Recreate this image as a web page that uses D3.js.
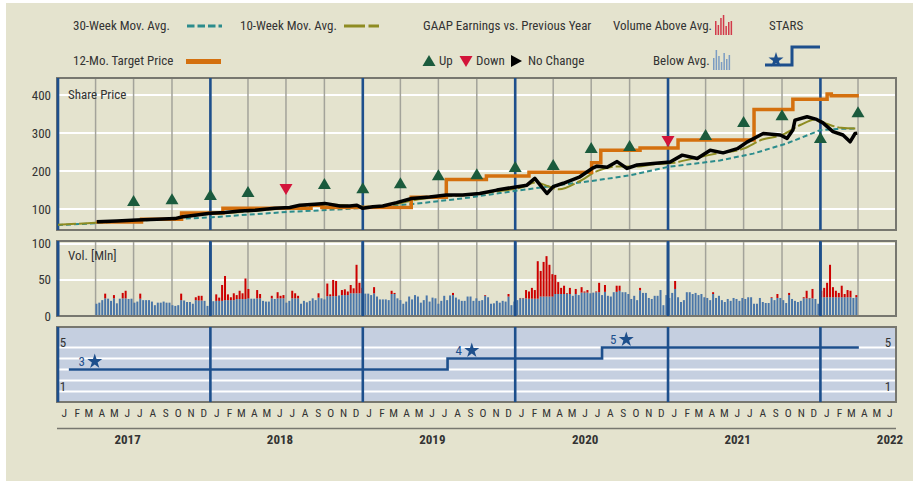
<!DOCTYPE html>
<html>
<head>
<meta charset="utf-8">
<script src="https://cdn.jsdelivr.net/npm/d3@7"></script>
<style>
	body { margin: 0; background: #fff; }
	svg text { font-family: "Liberation Sans Narrow", "Roboto Condensed", "Liberation Sans", sans-serif; fill: #333; }
</style>
</head>
<body>
<svg id="chart" width="913" height="481"></svg>
<script>
// ---- data ----
const priceDates = ['2017-04-04','2017-05-22','2017-07-09','2017-08-26','2017-10-08','2017-10-27','2017-11-25','2017-12-31',
	'2018-02-05','2018-03-13','2018-04-18','2018-06-04','2018-07-10','2018-08-03','2018-09-08','2018-10-02','2018-11-07',
	'2018-12-01','2018-12-18','2019-01-01','2019-01-25','2019-02-18','2019-03-23','2019-04-28','2019-06-10','2019-07-20',
	'2019-08-28','2019-10-08','2019-11-18','2019-12-26','2020-01-29','2020-02-17','2020-03-01','2020-03-17','2020-04-01',
	'2020-04-25','2020-06-04','2020-07-03','2020-07-15','2020-08-08','2020-09-01','2020-09-25','2020-10-19','2020-11-26',
	'2021-01-06','2021-02-04','2021-03-12','2021-04-12','2021-05-13','2021-06-16','2021-07-10','2021-08-17','2021-09-27',
	'2021-10-13','2021-10-27','2021-11-01','2021-11-30','2021-12-23','2022-01-07','2022-01-31','2022-02-24','2022-03-13',
	'2022-03-25','2022-03-30'];
const priceValues = [67, 69, 71, 73, 75, 80, 84, 89,
	91, 95, 97, 102, 104, 110, 113, 115, 108,
	108, 110, 102, 106, 108, 117, 128, 132, 137,
	137, 141, 150, 157, 163, 181, 163, 141, 159,
	168, 185, 207, 213, 210, 225, 207, 216, 220,
	224, 242, 233, 255, 248, 259, 277, 299, 295,
	286, 308, 334, 343, 336, 327, 304, 295, 277,
	299, 300];

const ma30Dates = ['2017-01-01','2017-03-20','2017-06-10','2017-12-31','2018-03-15','2018-07-10','2018-09-25','2018-11-20',
	'2019-01-01','2019-04-28','2019-08-28','2019-12-26','2020-03-17','2020-07-15','2020-10-02','2021-01-01','2021-05-05',
	'2021-07-24','2021-10-13','2022-01-01','2022-02-10','2022-03-30'];
const ma30Values = [58, 62, 68, 78, 84, 93, 97, 100,
	103, 113, 128, 147, 159, 176, 189, 211, 228,
	246, 273, 308, 311, 312];

const ma10Dates = ['2017-01-01','2017-04-01','2017-07-01','2017-10-01','2017-12-01','2018-02-01','2018-04-15','2018-06-15',
	'2018-08-15','2018-10-10','2018-12-01','2019-01-15','2019-03-15','2019-05-15','2019-07-15','2019-09-15','2019-11-15',
	'2020-01-15','2020-02-20','2020-03-20','2020-04-15','2020-06-01','2020-07-15','2020-09-01','2020-10-15','2020-12-01',
	'2021-01-15','2021-03-01','2021-05-01','2021-07-01','2021-08-15','2021-10-01','2021-11-15','2021-12-20','2022-01-15',
	'2022-02-20','2022-03-30'];
const ma10Values = [59, 64, 70, 74, 84, 89, 95, 101,
	107, 112, 109, 106, 112, 126, 133, 138, 146,
	157, 170, 160, 152, 172, 200, 212, 212, 218,
	222, 233, 247, 259, 283, 295, 322, 336, 325,
	314, 312];

const targetDates = ['2017-04-03','2017-07-20','2017-10-24','2018-01-31','2018-08-30','2018-09-25','2019-04-27','2019-07-20',
	'2019-10-24','2020-02-03','2020-07-02','2020-07-24','2020-10-26','2021-01-25','2021-07-26','2021-10-27','2022-01-17',
	'2022-01-27','2022-04-03'];
const targetValues = [66, 73, 90, 102, 110, 104, 131, 178,
	187, 197, 222, 255, 261, 282, 362, 389, 403,
	398, 398];

const earnDates = ['2017-07-01','2017-10-01','2018-01-01','2018-04-01','2018-07-01','2018-10-01','2019-01-01','2019-04-01',
	'2019-07-01','2019-10-01','2020-01-01','2020-04-01','2020-07-01','2020-10-01','2021-01-01','2021-04-01','2021-07-01',
	'2021-10-01','2022-01-01','2022-04-01'];
const earnValues = [121, 126, 137, 145, 153, 166, 155, 168, 189, 192, 211, 216, 261, 266, 279, 295, 329, 347, 287, 355];
const earnDir = ['up','up','up','up','down','up','up','up','up','up','up','up','up','up','down','up','up','up','up','up'];

// weekly volume (Mln), first week 2017-04-03
const volumeStart = '2017-04-03';
const volume = [17, 18.5, 22, 31, 24, 21, 29, 17.6, 24, 32, 35, 23.6, 24, 18.5, 20, 31, 22, 22, 22, 20,
	15, 18.5, 18.5, 20, 18.5, 18.5, 15, 14, 15, 31, 21.5, 19.4, 19.4, 17, 26, 28, 28, 21, 14, 23,
	20.5, 30, 25.5, 43, 55.5, 30, 26, 31.5, 29, 35, 31.5, 52, 37.5, 24, 24, 36, 30.5, 21, 20, 20,
	28, 23.6, 33, 28, 29, 18.5, 21, 35, 31.5, 28, 17, 21, 19, 21, 24.5, 22, 31.5, 24.5, 23, 45,
	30, 50, 48.6, 28.5, 36, 37, 34, 43, 38.4, 71, 46, 39, 31, 31, 29, 40, 27, 23, 23, 23,
	22, 35, 32, 24.5, 22, 17, 20, 27, 23, 29, 27, 18.5, 22, 28.5, 20, 25.5, 24.5, 17, 21, 28,
	22, 28.5, 32, 25.5, 23, 21, 21, 27, 27, 21, 24.5, 21, 22, 29, 26, 17, 17.6, 21, 18.5, 21,
	20, 30.5, 15, 20, 22, 25, 25, 36, 34, 39, 36, 76, 62.5, 75, 83, 71, 58, 57, 47, 39,
	42, 31.5, 39, 28, 37.5, 29, 40, 34, 36, 31.5, 32.4, 34, 46, 29, 43, 28, 27, 33, 42, 42,
	33, 33, 30.5, 23.6, 28, 22, 39, 32, 32, 25, 23.6, 28, 28, 36, 15, 29, 25, 32, 48.6, 26,
	19.4, 22, 33, 33, 30.5, 32, 29, 30.5, 26, 25, 22, 33, 25, 28, 22, 19.4, 23.6, 21, 25, 23.6,
	21, 25, 23.6, 26, 26, 17, 17, 25, 19.4, 18, 18, 26, 22, 30.5, 25, 22, 18, 32, 23.6, 21,
	19.4, 21, 26, 35, 25, 37.5, 23.6, 17, 35, 39, 46, 71, 40, 35, 32, 42, 30.5, 36, 35, 25, 29];
// monthly average volume, Apr 2017 .. Mar 2022
const volAvg = [24.5, 24.5, 24.5, 24, 23, 22.5, 22, 22, 21.5,
	21, 22, 23.5, 24.5, 24.5, 24.5, 24.5, 25, 25.5, 27.5, 29, 31.5,
	31.5, 31, 30.5, 30, 29.5, 29, 29, 29, 28.5, 28, 27.5, 27,
	24.5, 24, 27, 30.5, 30.5, 32.5, 33, 33.5, 35, 35.5, 36, 37,
	37.5, 35, 33, 30.5, 29, 27.5, 26.5, 25.5, 25, 29, 24.5, 24.5,
	26, 26, 26];

const starSteps = ['2017-01-27','2019-07-23','2020-07-27','2022-04-03'];
const starLevels = [3, 4, 5, 5];
const starMarkDates = ['2017-03-30','2019-09-19','2020-09-23'];
const starMarkLevels = [3, 4, 5];

const priceTicks = [100, 200, 300, 400];
const volTicks = [0, 50, 100];
const monthLetters = ['J','F','M','A','M','J','J','A','S','O','N','D'];
const yearLabels = [2017, 2018, 2019, 2020, 2021, 2022];
const iconUp = [14, 10, 17, 20, 9, 13, 14];
const iconDown = [12, 20, 14, 8, 17, 11, 15];

// ---- setup ----
const COLORS = {
	bg: '#e4e3ce', starsBg: '#c5cfe0', grid: '#ffffff', quarter: '#a3a39a', year: '#1d4f8c',
	border: '#77776f', teal: '#2b8c8c', olive: '#8e8c22', orange: '#d4700e', green: '#1b5b3d',
	red: '#d3143a', volBlue: '#4a76a8', volRed: '#cc0000', text: '#333333'
};
const parse = d3.timeParse('%Y-%m-%d');
const svg = d3.select('#chart');
svg.append('rect').attr('x', 6).attr('y', 3).attr('width', 907).attr('height', 478).attr('fill', COLORS.bg);

const X0 = 57, X1 = 896;
const x = d3.scaleTime().domain([new Date(2017, 0, 1), new Date(2022, 6, 1)]).range([58, 896]);
const yPrice = d3.scaleLinear().domain([45, 445]).range([230, 78]);
const yVol = d3.scaleLinear().domain([0, 104]).range([316, 241]);
const yStar = d3.scaleLinear().domain([0, 7]).range([402.5, 325.5]);

const quarters = d3.timeMonth.every(3).range(new Date(2017, 0, 1), new Date(2022, 6, 1)).filter(function (d) { return d.getMonth() !== 0; });
const years = d3.timeYear.range(new Date(2017, 0, 1), new Date(2022, 6, 1));

function panel (top, bottom, fill, hTicks, yScale, withQuarters) {
	var g = svg.append('g');
	g.append('rect').attr('x', X0).attr('y', top).attr('width', X1 - X0).attr('height', bottom - top).attr('fill', fill);
	g.selectAll('.hg').data(hTicks).enter().append('line')
		.attr('x1', X0).attr('x2', X1)
		.attr('y1', function (d) { return yScale(d); }).attr('y2', function (d) { return yScale(d); })
		.attr('stroke', COLORS.grid).attr('stroke-width', 2);
	if (withQuarters) {
		g.selectAll('.qg').data(quarters).enter().append('line')
			.attr('x1', function (d) { return x(d); }).attr('x2', function (d) { return x(d); })
			.attr('y1', top).attr('y2', bottom)
			.attr('stroke', COLORS.quarter).attr('stroke-width', 1.5);
	}
	g.append('rect').attr('x', X0).attr('y', top).attr('width', X1 - X0).attr('height', bottom - top)
		.attr('fill', 'none').attr('stroke', COLORS.border).attr('stroke-width', 2);
	return g;
}
function yearLines (g, top, bottom) {
	g.selectAll('.yl').data(years).enter().append('line')
		.attr('x1', function (d) { return x(d); }).attr('x2', function (d) { return x(d); })
		.attr('y1', top).attr('y2', bottom)
		.attr('stroke', COLORS.year).attr('stroke-width', 2.6);
}

// ---- price panel ----
var gp = panel(78, 230, COLORS.bg, priceTicks, yPrice, true);
yearLines(gp, 78, 230);
svg.selectAll('.py').data(priceTicks).enter().append('text')
	.attr('x', 51).attr('y', function (d) { return yPrice(d); }).attr('dy', '0.35em')
	.attr('text-anchor', 'end').attr('font-size', 13).text(function (d) { return d; });
svg.append('text').attr('x', 68).attr('y', 99).attr('font-size', 13).text('Share Price');

function series (dates, values) {
	return dates.map(function (d, i) { return { date: parse(d), value: values[i] }; });
}
var lineP = d3.line().x(function (d) { return x(d.date); }).y(function (d) { return yPrice(d.value); });
gp.append('path').datum(series(ma30Dates, ma30Values)).attr('d', lineP)
	.attr('fill', 'none').attr('stroke', COLORS.teal).attr('stroke-width', 2).attr('stroke-dasharray', '5,3');
gp.append('path').datum(series(ma10Dates, ma10Values)).attr('d', lineP.curve(d3.curveMonotoneX))
	.attr('fill', 'none').attr('stroke', COLORS.olive).attr('stroke-width', 2).attr('stroke-dasharray', '18,3');
gp.append('path').datum(series(targetDates, targetValues))
	.attr('d', d3.line().curve(d3.curveStepAfter).x(function (d) { return x(d.date); }).y(function (d) { return yPrice(d.value); }))
	.attr('fill', 'none').attr('stroke', COLORS.orange).attr('stroke-width', 3.5);
gp.append('path').datum(series(priceDates, priceValues))
	.attr('d', d3.line().x(function (d) { return x(d.date); }).y(function (d) { return yPrice(d.value); }))
	.attr('fill', 'none').attr('stroke', '#000').attr('stroke-width', 3.5).attr('stroke-linejoin', 'round');

var upPath = 'M0,-6L6.5,5L-6.5,5Z', downPath = 'M-6.5,-5L6.5,-5L0,6Z';
gp.selectAll('.earn').data(series(earnDates, earnValues)).enter().append('path')
	.attr('transform', function (d) { return 'translate(' + x(d.date) + ',' + yPrice(d.value) + ')'; })
	.attr('d', function (d, i) { return earnDir[i] === 'up' ? upPath : downPath; })
	.attr('fill', function (d, i) { return earnDir[i] === 'up' ? COLORS.green : COLORS.red; });

// ---- volume panel ----
var gv = panel(241, 316, COLORS.bg, [50, 100], yVol, true);
yearLines(gv, 241, 316);
svg.selectAll('.vy').data(volTicks).enter().append('text')
	.attr('x', 51).attr('y', function (d) { return yVol(d); }).attr('dy', '0.35em')
	.attr('text-anchor', 'end').attr('font-size', 13).text(function (d) { return d; });
svg.append('text').attr('x', 68).attr('y', 260).attr('font-size', 13).text('Vol. [Mln]');

var start = parse(volumeStart);
var bars = volume.map(function (v, i) {
	var d = d3.timeDay.offset(start, 7 * i);
	var avg = volAvg[(d.getFullYear() - 2017) * 12 + d.getMonth() - 3];
	return { date: d, value: v, avg: avg };
});
var bw = 2;
gv.selectAll('.vb').data(bars).enter().append('rect')
	.attr('x', function (d) { return x(d.date) - bw / 2; }).attr('width', bw)
	.attr('y', function (d) { return yVol(Math.min(d.value, d.avg)); })
	.attr('height', function (d) { return yVol(0) - yVol(Math.min(d.value, d.avg)); })
	.attr('fill', COLORS.volBlue);
gv.selectAll('.vr').data(bars.filter(function (d) { return d.value > d.avg; })).enter().append('rect')
	.attr('x', function (d) { return x(d.date) - bw / 2; }).attr('width', bw)
	.attr('y', function (d) { return yVol(d.value); })
	.attr('height', function (d) { return yVol(d.avg) - yVol(d.value); })
	.attr('fill', COLORS.volRed);
gv.append('rect').attr('x', X0).attr('y', 241).attr('width', X1 - X0).attr('height', 75)
	.attr('fill', 'none').attr('stroke', COLORS.border).attr('stroke-width', 2);
yearLines(gv, 241, 316);

// ---- STARS panel ----
var gs = panel(327, 402, COLORS.starsBg, [1, 2, 3, 4, 5], yStar, false);
yearLines(gs, 327, 402);
[[63, 5], [63, 1], [888, 5], [888, 1]].forEach(function (p) {
	svg.append('text').attr('x', p[0]).attr('y', yStar(p[1]) - 5).attr('dy', '0.35em')
		.attr('text-anchor', 'middle').attr('font-size', 13).text(p[1]);
});
gs.append('path').datum(series(starSteps, starLevels))
	.attr('d', d3.line().curve(d3.curveStepAfter).x(function (d) { return x(d.date); }).y(function (d) { return yStar(d.value); }))
	.attr('fill', 'none').attr('stroke', COLORS.year).attr('stroke-width', 2.6);
var starSym = d3.symbol().type(d3.symbolStar).size(70);
series(starMarkDates, starMarkLevels).forEach(function (d) {
	var sx = x(d.date), sy = yStar(d.value) - 8;
	gs.append('path').attr('d', starSym()).attr('transform', 'translate(' + sx + ',' + sy + ')').attr('fill', COLORS.year);
	gs.append('text').attr('x', sx - 13).attr('y', sy).attr('dy', '0.35em').attr('text-anchor', 'middle')
		.attr('font-size', 13).style('fill', COLORS.year).text(d.value);
});

// ---- time axis ----
var months = d3.timeMonth.range(new Date(2017, 0, 1), new Date(2022, 6, 1));
svg.selectAll('.ml').data(months).enter().append('text')
	.attr('x', function (d) { return x(d3.timeDay.offset(d, 15)); }).attr('y', 413).attr('dy', '0.35em')
	.attr('text-anchor', 'middle').attr('font-size', 11.5)
	.text(function (d) { return monthLetters[d.getMonth()]; });
svg.append('line').attr('x1', X0).attr('x2', X1).attr('y1', 428.5).attr('y2', 428.5)
	.attr('stroke', COLORS.border).attr('stroke-width', 1.5);
svg.selectAll('.yr').data(yearLabels).enter().append('text')
	.attr('x', function (d) { return x(new Date(d, 6, 1)) - 6; }).attr('y', 439).attr('dy', '0.35em')
	.attr('text-anchor', 'middle').attr('font-size', 13).attr('font-weight', 'bold')
	.text(function (d) { return d; });

// ---- legend ----
var lg = svg.append('g');
function ltext (tx, ty, s) { lg.append('text').attr('x', tx).attr('y', ty).attr('font-size', 13).text(s); }
ltext(73, 30, '30-Week Mov. Avg.');
lg.append('line').attr('x1', 187).attr('x2', 222).attr('y1', 26).attr('y2', 26)
	.attr('stroke', COLORS.teal).attr('stroke-width', 3).attr('stroke-dasharray', '7.5,3');
ltext(240, 30, '10-Week Mov. Avg.');
lg.append('line').attr('x1', 344).attr('x2', 379).attr('y1', 26).attr('y2', 26)
	.attr('stroke', COLORS.olive).attr('stroke-width', 3).attr('stroke-dasharray', '21,3.5');
ltext(423, 30, 'GAAP Earnings vs. Previous Year');
ltext(613, 30, 'Volume Above Avg.');
iconUp.forEach(function (h, i) {
	lg.append('rect').attr('x', 715 + i * 2.6).attr('y', 35 - h).attr('width', 1.5).attr('height', h).attr('fill', '#d23a4a');
});
ltext(769, 30, 'STARS');
ltext(73, 65, '12-Mo. Target Price');
lg.append('line').attr('x1', 186).attr('x2', 221).attr('y1', 61.5).attr('y2', 61.5)
	.attr('stroke', COLORS.orange).attr('stroke-width', 5);
lg.append('path').attr('d', upPath).attr('transform', 'translate(429,61)').attr('fill', COLORS.green);
ltext(439, 65, 'Up');
lg.append('path').attr('d', downPath).attr('transform', 'translate(466,61)').attr('fill', COLORS.red);
ltext(476, 65, 'Down');
lg.append('path').attr('d', 'M-5,-6L6,0L-5,6Z').attr('transform', 'translate(516,61)').attr('fill', '#000');
ltext(528, 65, 'No Change');
ltext(653, 65, 'Below Avg.');
iconDown.forEach(function (h, i) {
	lg.append('rect').attr('x', 713 + i * 2.6).attr('y', 70 - h).attr('width', 1.5).attr('height', h).attr('fill', '#7b9cc2');
});
lg.append('path').attr('d', starSym()).attr('transform', 'translate(776,60)').attr('fill', COLORS.year);
lg.append('path').attr('d', 'M765,65H792V47H820').attr('fill', 'none').attr('stroke', COLORS.year).attr('stroke-width', 3);
</script>
</body>
</html>
